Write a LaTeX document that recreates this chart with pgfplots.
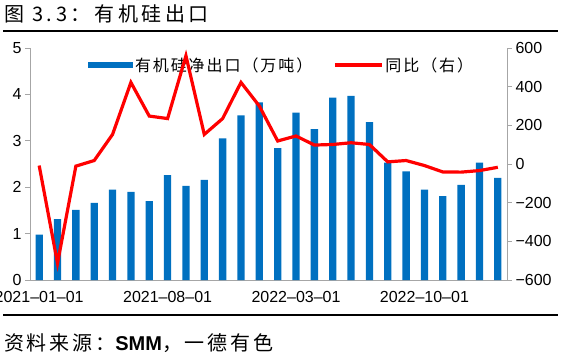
\documentclass[border=0pt]{standalone}
\usepackage{fontspec}
\setmainfont{Liberation Sans}
\newfontfamily\cjk{Noto Sans CJK SC}
\newfontfamily\cjklg[LetterSpace=12]{Noto Sans CJK SC}
\newfontfamily\cjkti[LetterSpace=18]{Noto Sans CJK SC}
\newfontfamily\cjksrc[LetterSpace=14]{Noto Sans CJK SC}
\usepackage{pgfplots}
\pgfplotsset{compat=1.18}
\definecolor{barblue}{RGB}{0,112,192}
\definecolor{axgray}{RGB}{166,166,166}
\begin{document}
\begin{tikzpicture}[x=1pt,y=1pt]
\begin{axis}[
  at={(30pt,80pt)}, anchor=south west,
  scale only axis, width=477pt, height=232pt,
  xmin=-0.5, xmax=25.5, ymin=0, ymax=5,
  axis y line*=left, axis x line*=bottom,
  axis line style={-, draw=axgray, line width=0.8pt},
  ytick={0,1,2,3,4,5},
  tick align=outside, major tick length=5pt,
  tick style={draw=axgray, line width=0.8pt},
  xtick={0,7,14,21},
  xticklabels={2021–01–01,2021–08–01,2022–03–01,2022–10–01},
  xtick style={draw=none},
  extra x ticks={-0.5,6.5,13.5,20.5},
  extra x tick labels={},
  extra x tick style={tick style={draw=axgray, line width=0.8pt}},
  ticklabel style={font=\fontsize{16}{16}\selectfont},
  xticklabel style={yshift=-3pt},
  /pgf/number format/assume math mode=true,
  legend columns=2,
  legend style={at={(0.1216,0.9267)}, anchor=west, draw=none, fill=none,
    inner sep=0pt, outer sep=0pt,
    font=\cjklg\fontsize{16}{16}\selectfont,
    /tikz/every even column/.append style={column sep=19pt}},
]
\addplot[ybar, bar width=7.3pt, bar shift=0pt, fill=barblue, draw=none,
  legend image code/.code={\fill[barblue] (0pt,-3.3pt) rectangle (45pt,3.3pt);}]
  coordinates {(0,0.98) (1,1.31) (2,1.51) (3,1.66) (4,1.95) (5,1.90) (6,1.70) (7,2.26) (8,2.03) (9,2.16) (10,3.05) (11,3.55) (12,3.83) (13,2.84) (14,3.61) (15,3.25) (16,3.93) (17,3.97) (18,3.40) (19,2.53) (20,2.34) (21,1.95) (22,1.81) (23,2.05) (24,2.53) (25,2.20)};
\addlegendentry{有机硅净出口（万吨）}
\addlegendimage{red, line width=3.2pt, legend image code/.code={\draw[red, line width=3.2pt] (0pt,0pt) -- (47pt,0pt);}}
\addlegendentry{同比（右）}
\end{axis}
\begin{axis}[
  at={(30pt,80pt)}, anchor=south west,
  scale only axis, width=477pt, height=232pt,
  xmin=-0.5, xmax=25.5, ymin=-600, ymax=600,
  axis y line*=right, hide x axis,
  axis line style={-, draw=axgray, line width=0.8pt},
  ytick={-600,-400,-200,0,200,400,600},
  yticklabels={−600,−400,−200,0,200,400,600},
  tick align=outside, major tick length=5pt,
  tick style={draw=axgray, line width=0.8pt},
  ticklabel style={font=\fontsize{16}{16}\selectfont},
]
\addplot[red, line width=3.2pt] coordinates {(0,-8) (1,-513) (2,-11) (3,18) (4,153) (5,422) (6,248) (7,235) (8,560) (9,153) (10,235) (11,422) (12,300) (13,119) (14,145) (15,98) (16,101) (17,110) (18,101) (19,11) (20,18) (21,-8) (22,-41) (23,-42) (24,-34) (25,-17)};
\end{axis}
\draw[line width=2pt] (3,329) -- (558,329);
\draw[line width=2pt] (3,45) -- (558,45);
\node[anchor=west, inner sep=0pt, font=\cjkti\fontsize{20}{20}\selectfont] at (4,346) {图 3.3：有机硅出口};
\node[anchor=west, inner sep=0pt, font=\cjksrc\fontsize{20}{20}\selectfont] at (4,17) {资料来源：{\fontspec{Liberation Sans}\bfseries SMM}，一德有色};
\pgfresetboundingbox
\path[use as bounding box] (0,0) rectangle (567,360);
\end{tikzpicture}
\end{document}
